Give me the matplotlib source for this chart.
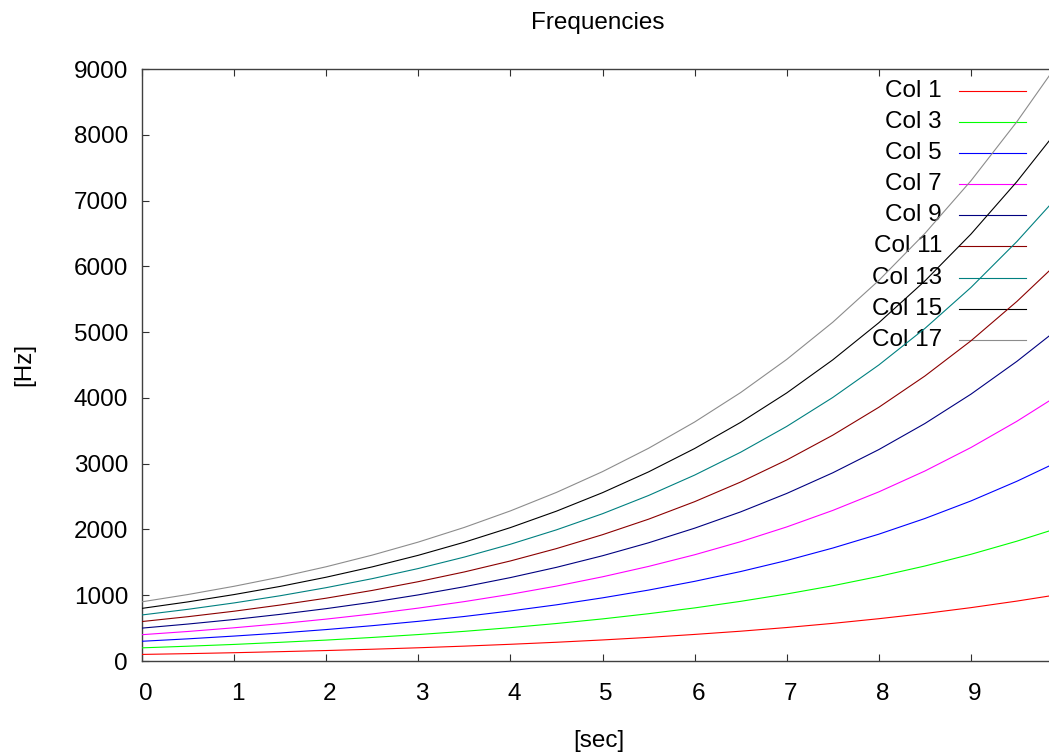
import matplotlib
matplotlib.use("Agg")
import matplotlib.pyplot as plt
from matplotlib.transforms import ScaledTranslation

plt.rcParams['font.family'] = ['Liberation Sans', 'DejaVu Sans']

# time samples [sec]
t = [0.0, 0.5, 1.0, 1.5, 2.0, 2.5, 3.0, 3.5, 4.0, 4.5, 5.0, 5.5, 6.0, 6.5,
     7.0, 7.5, 8.0, 8.5, 9.0, 9.5, 9.85]

col1 = [100, 112, 126, 142, 159, 179, 201, 226, 254, 285, 320, 359, 404, 453,
        509, 572, 643, 722, 811, 911, 988]
col3 = [200, 225, 252, 284, 318, 358, 402, 451, 507, 570, 640, 719, 807, 907,
        1019, 1144, 1286, 1444, 1622, 1822, 1977]
col5 = [300, 337, 379, 425, 478, 537, 603, 677, 761, 854, 960, 1078, 1211, 1360,
        1528, 1717, 1928, 2166, 2433, 2733, 2965]
col7 = [400, 449, 505, 567, 637, 715, 804, 903, 1014, 1139, 1280, 1438, 1615, 1814,
        2038, 2289, 2571, 2888, 3245, 3645, 3954]
col9 = [500, 562, 631, 709, 796, 894, 1005, 1129, 1268, 1424, 1600, 1797, 2019, 2267,
        2547, 2861, 3214, 3610, 4056, 4556, 4942]
col11 = [600, 674, 757, 851, 955, 1073, 1206, 1354, 1521, 1709, 1920, 2156, 2422, 2721,
         3056, 3433, 3857, 4332, 4867, 5467, 5931]
col13 = [700, 786, 883, 992, 1115, 1252, 1406, 1580, 1775, 1994, 2239, 2516, 2826, 3174,
         3566, 4006, 4500, 5055, 5678, 6378, 6919]
col15 = [800, 899, 1010, 1134, 1274, 1431, 1607, 1806, 2028, 2278, 2559, 2875, 3230, 3628,
         4075, 4578, 5142, 5777, 6489, 7289, 7908]
col17 = [900, 1011, 1136, 1276, 1433, 1610, 1808, 2031, 2282, 2563, 2879, 3234, 3633, 4081,
         4585, 5150, 5785, 6499, 7300, 8200, 8896]

labels = ["Col 1", "Col 3", "Col 5", "Col 7", "Col 9", "Col 11", "Col 13", "Col 15", "Col 17"]
series = [col1, col3, col5, col7, col9, col11, col13, col15, col17]
colors = ["#ff0000", "#00ff00", "#0000ff", "#ff00ff", "#000080", "#8b0000",
          "#008080", "#000000", "#8c8c8c"]

xticks = [0, 1, 2, 3, 4, 5, 6, 7, 8, 9]
yticks = [0, 1000, 2000, 3000, 4000, 5000, 6000, 7000, 8000, 9000]

W, H = 1049, 756
fig = plt.figure(figsize=(W / 100, H / 100), dpi=100)
left, right, top, bottom = 142, 1049, 69, 661
ax = fig.add_axes([left / W, 1 - bottom / H, (right - left) / W, (bottom - top) / H])

for y, c, lab in zip(series, colors, labels):
    ax.plot(t, y, color=c, lw=0.8, label=lab, zorder=3)

ax.set_xlim(0, (right - left) / 92.1)
ax.set_ylim(0, 9000)
ax.set_xticks(xticks)
ax.set_yticks(yticks)
ax.set_xticklabels([str(v) for v in xticks])
ax.set_yticklabels([str(v) for v in yticks])
ax.tick_params(direction='in', length=5, width=0.8, color='#303030',
               labelsize=17.5, top=True, right=False)
ax.tick_params(axis='x', pad=16)
ax.tick_params(axis='y', pad=10)
shift = ScaledTranslation(2.5 / 72, 0, fig.dpi_scale_trans)
for lbl in ax.get_xticklabels():
    lbl.set_transform(lbl.get_transform() + shift)
for s in ['left', 'top', 'bottom']:
    ax.spines[s].set_color('#404040')
    ax.spines[s].set_linewidth(1.0)
ax.spines['right'].set_visible(False)

fig.text(598 / W, 1 - 23 / H, "Frequencies", ha='center', va='center', fontsize=17.5)
fig.text(599 / W, 1 - 741 / H, "[sec]", ha='center', va='center', fontsize=17.5)
fig.text(24 / W, 1 - 364 / H, "[Hz]", ha='center', va='center', fontsize=17.5, rotation=90)

# key (legend), right-aligned text, samples at right
ax_w = right - left
ax_h = bottom - top
for i, (c, lab) in enumerate(zip(colors, labels)):
    ypix = 91 + i * 31.1
    ya = (bottom - ypix) / ax_h
    ax.text((942 - left) / ax_w, ya, lab, transform=ax.transAxes, ha='right',
            va='center', fontsize=17.5, zorder=2)
    ax.plot([(959 - left) / ax_w, (1026 - left) / ax_w], [ya, ya],
            transform=ax.transAxes, color=c, lw=0.8, zorder=2, clip_on=False)

fig.savefig("out.png", dpi=100)
